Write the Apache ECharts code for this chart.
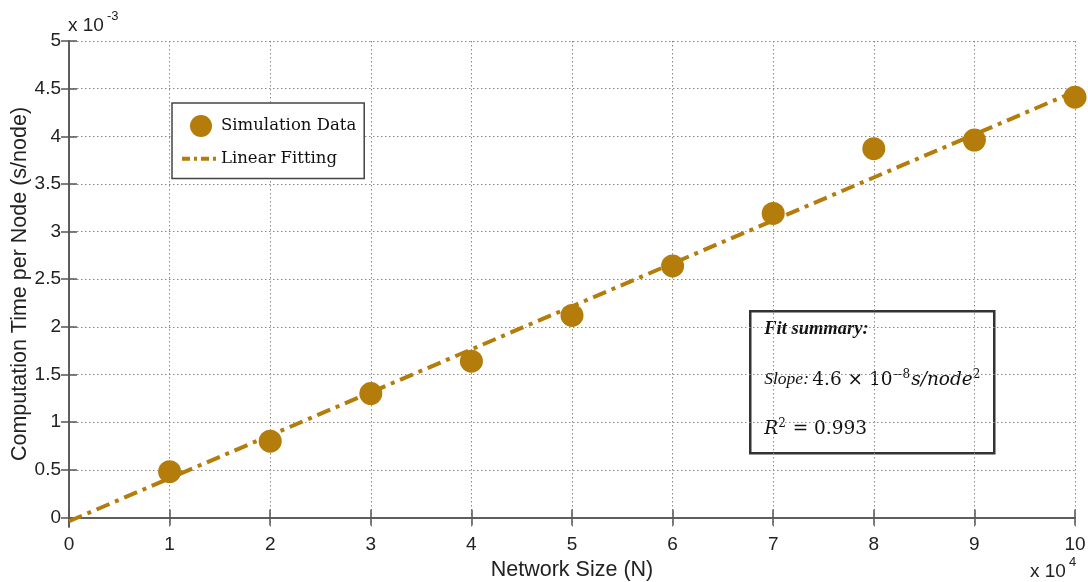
<!DOCTYPE html>
<html>
<head>
<meta charset="utf-8">
<style>
  html, body { margin: 0; padding: 0; background: #fff; }
  #chart { width: 1088px; height: 582px; }
</style>
<script src="https://cdn.jsdelivr.net/npm/echarts@6/dist/echarts.min.js"></script>
</head>
<body>
<div id="chart"></div>
<script>
// Network size in units of 10^4 nodes
const networkSize = [1, 2, 3, 4, 5, 6, 7, 8, 9, 10];
// Computation time per node in units of 10^-3 s/node
const computeTime = [0.48, 0.80, 1.30, 1.64, 2.12, 2.64, 3.19, 3.87, 3.96, 4.41];
// Linear fit endpoints
const fitX = [0, 10];
const fitY = [-0.04, 4.47];
// Tick values
const xTicks = [0, 1, 2, 3, 4, 5, 6, 7, 8, 9, 10];
const yTicks = [0, 0.5, 1, 1.5, 2, 2.5, 3, 3.5, 4, 4.5, 5];

const gold = '#B47C0A';
const axisColor = '#555';
const gridLine = { show: true, lineStyle: { color: '#8a8a8a', type: [1.5, 2.5], width: 1 } };
const labelFont = { fontFamily: 'Liberation Sans, Arial, sans-serif', fontSize: 19, color: '#222' };
const nameFont = { fontFamily: 'Liberation Sans, Arial, sans-serif', fontSize: 21.5, color: '#222' };

const chart = echarts.init(document.getElementById('chart'), null, { renderer: 'canvas' });

function fmtY(v) { return String(Math.round(v * 10) / 10); }

function boxAxis(position, min, max, ticks) {
  return {
    type: 'value', min: min, max: max, position: position,
    axisLine: { show: true, lineStyle: { color: axisColor, width: 1.5 } },
    axisTick: { show: true, inside: true, length: 8, customValues: ticks, lineStyle: { color: axisColor, width: 1.5 } },
    axisLabel: { show: false },
    splitLine: { show: false }
  };
}

const option = {
  animation: false,
  backgroundColor: '#fff',
  grid: { left: 69, right: 13, top: 41, bottom: 55, containLabel: false, outerBoundsMode: 'none' },
  legend: {
    orient: 'vertical',
    left: 172,
    top: 103,
    padding: [12, 8, 11, 8],
    itemWidth: 38,
    itemHeight: 22,
    itemGap: 13,
    backgroundColor: '#fff',
    borderColor: '#444',
    borderWidth: 1.5,
    textStyle: { fontFamily: 'DejaVu Serif, Liberation Serif, serif', fontSize: 16.5, color: '#111', padding: [0, 0, 0, -4] },
    data: [
      { name: 'Simulation Data' },
      {
        name: 'Linear Fitting',
        // dash-dot line only, no marker
        itemStyle: { opacity: 0, color: 'rgba(0,0,0,0)' },
        lineStyle: { color: gold, width: 4, type: [8, 4, 3, 4], opacity: 1 }
      }
    ]
  },
  xAxis: [
    {
      type: 'value', min: 0, max: 10, position: 'bottom',
      axisLine: { show: true, lineStyle: { color: axisColor, width: 1.5 } },
      axisTick: { show: true, inside: true, length: 8, customValues: xTicks, lineStyle: { color: axisColor, width: 1.5 } },
      axisLabel: Object.assign({ margin: 8, customValues: xTicks, showMinLabel: true, showMaxLabel: true }, labelFont),
      splitLine: gridLine,
      name: 'Network Size (N)', nameLocation: 'middle', nameGap: 27,
      nameTextStyle: nameFont
    },
    boxAxis('top', 0, 10, xTicks)
  ],
  yAxis: [
    {
      type: 'value', min: -0.1, max: 5, position: 'left',
      axisLine: { show: true, lineStyle: { color: axisColor, width: 1.5 } },
      axisTick: { show: true, inside: true, length: 8, customValues: yTicks, lineStyle: { color: axisColor, width: 1.5 } },
      axisLabel: Object.assign({ margin: 8, customValues: yTicks, formatter: fmtY }, labelFont),
      splitLine: gridLine,
      name: 'Computation Time per Node (s/node)', nameLocation: 'middle', nameGap: 38,
      nameMoveOverlap: false,
      nameTextStyle: nameFont
    },
    boxAxis('right', -0.1, 5, yTicks)
  ],
  series: [
    {
      name: 'Linear Fitting',
      type: 'line',
      xAxisIndex: 0, yAxisIndex: 0,
      data: fitX.map((x, i) => [x, fitY[i]]),
      showSymbol: false,
      symbol: 'none',
      lineStyle: { color: gold, width: 4, type: [14, 6, 4, 6] },
      itemStyle: { color: gold },
      z: 2
    },
    {
      name: 'Simulation Data',
      type: 'scatter',
      xAxisIndex: 0, yAxisIndex: 0,
      data: networkSize.map((x, i) => [x, computeTime[i]]),
      symbol: 'circle',
      symbolSize: 23,
      itemStyle: { color: gold, opacity: 1 },
      z: 3
    }
  ],
  graphic: [
    // axis scale multipliers
    { type: 'text', left: 68, top: 16, style: { text: 'x 10', font: '19px "Liberation Sans", Arial, sans-serif', fill: '#222' } },
    { type: 'text', left: 107, top: 10, style: { text: '-3', font: '13px "Liberation Sans", Arial, sans-serif', fill: '#222' } },
    { type: 'text', left: 1030, top: 562, style: { text: 'x 10', font: '19px "Liberation Sans", Arial, sans-serif', fill: '#222' } },
    { type: 'text', left: 1069, top: 556, style: { text: '4', font: '13px "Liberation Sans", Arial, sans-serif', fill: '#222' } },
    // fit summary box
    {
      type: 'group', left: 749, top: 310, z: 100,
      children: [
        { type: 'rect', shape: { x: 0, y: 0, width: 244, height: 142 }, style: { fill: '#fff', stroke: '#333', lineWidth: 2.5 } },
        { type: 'text', x: 14, y: 8, style: { text: 'Fit summary:', font: 'italic bold 18.5px "Liberation Serif", "DejaVu Serif", serif', fill: '#111' } },
        {
          type: 'text', x: 14, y: 58,
          style: {
            text: '{it|Slope:} {m|4.6 × 10}{sup|−8}{mi|s/node}{sup|2}',
            rich: {
              it: { font: 'italic 17.5px "Liberation Serif", serif', fill: '#111' },
              m: { font: '18.5px "DejaVu Serif", serif', fill: '#111' },
              mi: { font: 'italic 18.5px "DejaVu Serif", serif', fill: '#111' },
              sup: { font: '12px "DejaVu Serif", serif', fill: '#111', verticalAlign: 'top', padding: [0, 1, 9, 0] }
            }
          }
        },
        {
          type: 'text', x: 14, y: 107,
          style: {
            text: '{mi|R}{sup|2}{m| = 0.993}',
            rich: {
              m: { font: '18.5px "DejaVu Serif", serif', fill: '#111' },
              mi: { font: 'italic 18.5px "DejaVu Serif", serif', fill: '#111' },
              sup: { font: '12px "DejaVu Serif", serif', fill: '#111', verticalAlign: 'top', padding: [0, 1, 9, 0] }
            }
          }
        }
      ]
    }
  ]
};

chart.setOption(option);
</script>
</body>
</html>
